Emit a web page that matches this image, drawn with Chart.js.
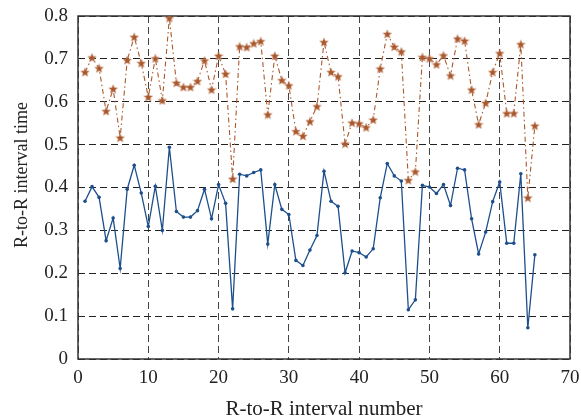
<!DOCTYPE html>
<html><head><meta charset="utf-8">
<script src="https://cdn.jsdelivr.net/npm/chart.js@4/dist/chart.umd.min.js"></script>
<style>html,body{margin:0;padding:0;background:#fff}#wrap{width:581px;height:419px}</style>
</head><body><div id="wrap"><canvas id="c" width="581" height="419"></canvas></div>
<script>
const intervalNumbers = [1,2,3,4,5,6,7,8,9,10,11,12,13,14,15,16,17,18,19,20,21,22,23,24,25,26,27,28,29,30,31,32,33,34,35,36,37,38,39,40,41,42,43,44,45,46,47,48,49,50,51,52,53,54,55,56,57,58,59,60,61,62,63,64,65];
const blueSeries = [0.368,0.402,0.377,0.276,0.329,0.211,0.396,0.452,0.387,0.309,0.403,0.300,0.494,0.344,0.331,0.331,0.346,0.396,0.327,0.407,0.363,0.117,0.431,0.427,0.435,0.441,0.268,0.407,0.349,0.337,0.230,0.218,0.254,0.288,0.438,0.368,0.356,0.201,0.252,0.248,0.238,0.257,0.376,0.456,0.427,0.415,0.115,0.138,0.405,0.401,0.386,0.407,0.358,0.445,0.441,0.327,0.245,0.296,0.367,0.413,0.270,0.270,0.432,0.073,0.243];
const orangeSeries = [0.669,0.703,0.678,0.578,0.630,0.516,0.697,0.751,0.690,0.611,0.701,0.603,0.795,0.644,0.634,0.634,0.648,0.696,0.628,0.707,0.665,0.420,0.729,0.727,0.736,0.741,0.570,0.707,0.650,0.638,0.531,0.520,0.554,0.589,0.739,0.669,0.659,0.502,0.551,0.549,0.540,0.558,0.677,0.758,0.728,0.717,0.417,0.437,0.704,0.701,0.687,0.708,0.661,0.747,0.742,0.628,0.547,0.597,0.669,0.713,0.573,0.573,0.734,0.376,0.544];
const xTicks = [0,10,20,30,40,50,60,70];
const yTicks = [0,0.1,0.2,0.3,0.4,0.5,0.6,0.7,0.8];
const yTickLabels = ['0','0.1','0.2','0.3','0.4','0.5','0.6','0.7','0.8'];
const xTitle = 'R-to-R interval number';
const yTitle = 'R-to-R interval time';

const BLUE = '#1d4f8b';
const ORANGE = '#a9582c';
const FONT = 'Liberation Serif';
const TEXT = '#222';

function makeStar(size, color) {
  const c = document.createElement('canvas');
  c.width = size; c.height = size;
  const g = c.getContext('2d');
  const cx = size / 2, cy = size / 2 + 0.4, R = size / 2 - 0.4, r = R * 0.45;
  g.beginPath();
  for (let i = 0; i < 10; i++) {
    const a = -Math.PI / 2 + i * Math.PI / 5;
    const rr = i % 2 === 0 ? R : r;
    const px = cx + rr * Math.cos(a), py = cy + rr * Math.sin(a);
    if (i === 0) g.moveTo(px, py); else g.lineTo(px, py);
  }
  g.closePath();
  g.fillStyle = color; g.fill();
  g.lineWidth = 0.6; g.strokeStyle = 'rgba(205,150,120,0.8)'; g.stroke();
  return c;
}
const starImg = makeStar(10, ORANGE);

const framePlugin = {
  id: 'frame',
  beforeDatasetsDraw(chart) {
    const {ctx, chartArea: a} = chart;
    ctx.save();
    ctx.strokeStyle = '#333';
    ctx.lineWidth = 1.5;
    ctx.strokeRect(a.left, a.top, a.right - a.left, a.bottom - a.top);
    ctx.restore();
  },
  afterDraw(chart) {
    const {ctx, chartArea: a} = chart;
    ctx.save();
    ctx.fillStyle = TEXT;
    ctx.textAlign = 'center';
    ctx.textBaseline = 'alphabetic';
    ctx.font = '21px "' + FONT + '"';
    ctx.fillText(xTitle, (a.left + a.right) / 2, 415);
    ctx.translate(27, 175);
    ctx.rotate(-Math.PI / 2);
    ctx.font = '18px "' + FONT + '"';
    ctx.fillText(yTitle, 0, 0);
    ctx.restore();
  }
};

new Chart(document.getElementById('c'), {
  type: 'line',
  data: {
    datasets: [
      {
        data: intervalNumbers.map((x, i) => ({x, y: orangeSeries[i]})),
        borderColor: ORANGE, borderWidth: 1.1, borderDash: [5, 3, 1.5, 3],
        pointStyle: starImg, pointRadius: 5, pointHoverRadius: 5,
        backgroundColor: ORANGE, tension: 0, fill: false
      },
      {
        data: intervalNumbers.map((x, i) => ({x, y: blueSeries[i]})),
        borderColor: BLUE, borderWidth: 1.3,
        pointStyle: 'circle', pointRadius: 1.8, pointBackgroundColor: BLUE, pointBorderColor: BLUE, pointBorderWidth: 0,
        tension: 0, fill: false
      }
    ]
  },
  options: {
    responsive: false, animation: false, devicePixelRatio: 1,
    layout: {padding: {left: 0, right: 11, top: 16, bottom: 0}},
    plugins: {legend: {display: false}, tooltip: {enabled: false}},
    scales: {
      x: {
        type: 'linear', min: 0, max: 70,
        afterBuildTicks: s => { s.ticks = xTicks.map(v => ({value: v})); },
        afterFit: s => { s.height = 60; s.paddingLeft = 0; s.paddingRight = 0; },
        grid: {color: '#444', lineWidth: 1, drawTicks: false},
        border: {display: false, dash: [7, 4]},
        ticks: {color: TEXT, font: {family: FONT, size: 19}, padding: 8, maxRotation: 0},
        title: {display: false}
      },
      y: {
        type: 'linear', min: 0, max: 0.8,
        afterBuildTicks: s => { s.ticks = yTicks.map(v => ({value: v})); },
        afterFit: s => { s.width = 78; s.paddingTop = 0; s.paddingBottom = 0; },
        grid: {color: '#222', lineWidth: 1, drawTicks: false},
        border: {display: false, dash: [7, 4]},
        ticks: {color: TEXT, font: {family: FONT, size: 19}, padding: 10,
          callback: (v, i) => yTickLabels[i]},
        title: {display: false}
      }
    }
  },
  plugins: [framePlugin]
});
</script></body></html>
